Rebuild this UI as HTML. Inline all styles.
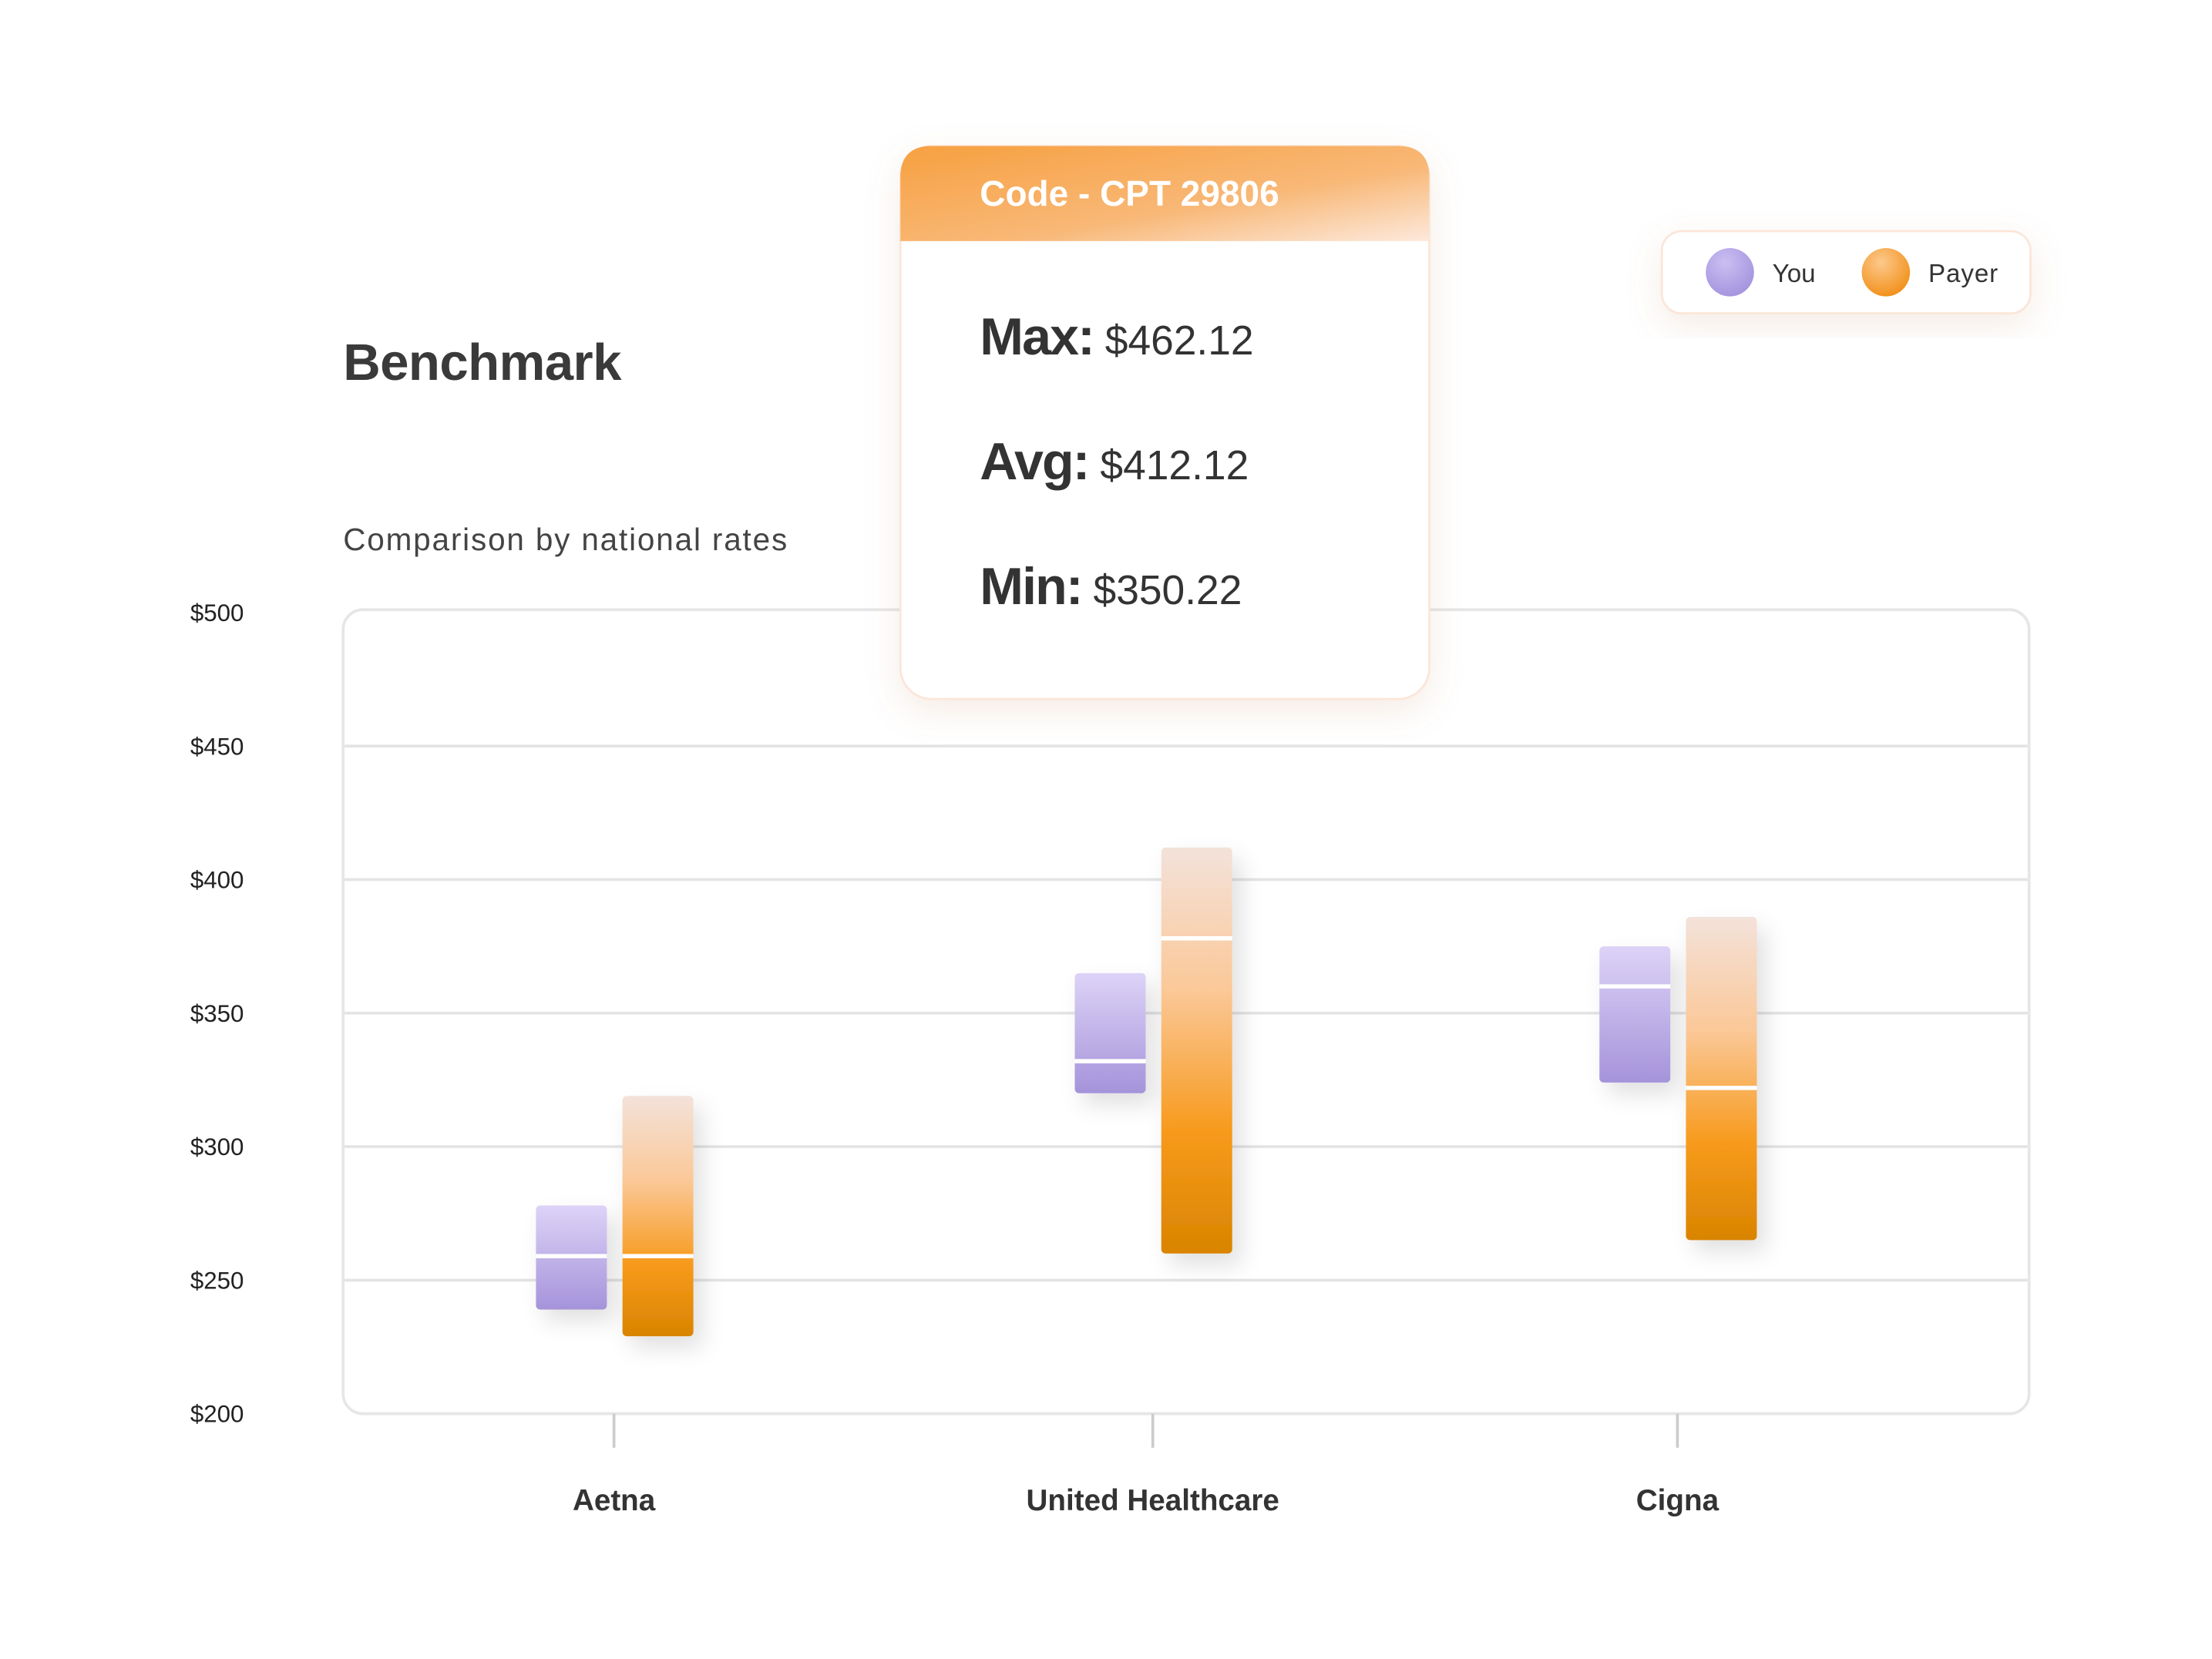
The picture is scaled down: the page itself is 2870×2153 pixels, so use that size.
<!DOCTYPE html>
<html><head><meta charset="utf-8"><style>
html,body{margin:0;padding:0;background:#fff;}
svg{display:block;}
text{font-family:"Liberation Sans",sans-serif;}
</style></head><body>
<svg id="chart" width="2870" height="2153" viewBox="0 0 1560 1170" preserveAspectRatio="none" xmlns="http://www.w3.org/2000/svg">
<defs>
<linearGradient id="youG" x1="0" y1="0" x2="0" y2="1"><stop offset="0" stop-color="#ddd3f7"/><stop offset="1" stop-color="#a593da"/></linearGradient>
<linearGradient id="payG" x1="0" y1="0" x2="0" y2="1"><stop offset="0" stop-color="#f3e2da"/><stop offset="0.35" stop-color="#fbc898"/><stop offset="0.7" stop-color="#f79a1c"/><stop offset="1" stop-color="#d98400"/></linearGradient>
<linearGradient id="hdrG" x1="0" y1="0" x2="1" y2="1"><stop offset="0" stop-color="#f7a040"/><stop offset="0.6" stop-color="#f8b877"/><stop offset="1" stop-color="#fde9dc"/></linearGradient>
<radialGradient id="youDot" cx="0.4" cy="0.3" r="0.8"><stop offset="0" stop-color="#cabff2"/><stop offset="1" stop-color="#a08fdc"/></radialGradient>
<radialGradient id="payDot" cx="0.4" cy="0.3" r="0.8"><stop offset="0" stop-color="#fcc98c"/><stop offset="1" stop-color="#f18a0e"/></radialGradient>
<filter id="sh" x="-30%" y="-30%" width="160%" height="160%"><feDropShadow dx="0" dy="8" stdDeviation="12" flood-color="#c08050" flood-opacity="0.15"/></filter>
<filter id="bsh" x="-50%" y="-20%" width="200%" height="140%"><feDropShadow dx="6" dy="8" stdDeviation="8" flood-color="#000" flood-opacity="0.12"/></filter>
</defs>
<rect x="80" y="62" width="1398" height="1052" fill="#fff"/>
<text x="242" y="268" font-size="36.5" font-weight="bold" fill="#3a3a3a" letter-spacing="-0.3">Benchmark</text>
<text x="242" y="388" font-size="22" fill="#444" letter-spacing="1">Comparison by national rates</text>
<rect x="242" y="430" width="1189" height="567" rx="14" fill="#fff" stroke="#e6e6e6" stroke-width="2"/>
<g id="grid"></g><g id="ylabels"></g><g id="bars"></g><g id="xaxis"></g>
<g filter="url(#sh)">
<rect x="635" y="103" width="373" height="390" rx="22" fill="#fff" stroke="#fbe6d8" stroke-width="1.5"/>
<path d="M635 170 V125 Q635 103 657 103 H986 Q1008 103 1008 125 V170 Z" fill="url(#hdrG)"/>
</g>
<text x="691" y="145" font-size="25" font-weight="bold" fill="#fff">Code - CPT 29806</text>
<text x="691" y="250" font-size="29" fill="#333"><tspan font-weight="bold" font-size="37" letter-spacing="-1">Max:</tspan> $462.12</text>
<text x="691" y="338" font-size="29" fill="#333"><tspan font-weight="bold" font-size="37" letter-spacing="-1">Avg:</tspan> $412.12</text>
<text x="691" y="426" font-size="29" fill="#333"><tspan font-weight="bold" font-size="37" letter-spacing="-1">Min:</tspan> $350.22</text>
<g>
<rect x="1172" y="163" width="260" height="58" rx="14" fill="#fff" stroke="#fbe6d8" stroke-width="1.5" filter="url(#sh)"/>
<circle cx="1220" cy="192" r="17" fill="url(#youDot)"/>
<text x="1250" y="199" font-size="18" fill="#333">You</text>
<circle cx="1330" cy="192" r="17" fill="url(#payDot)"/>
<text x="1360" y="199" font-size="18" fill="#333" letter-spacing="0.5">Payer</text>
</g>
</svg>
<script>
const categories = ["Aetna", "United Healthcare", "Cigna"];
const youMin = [239, 320, 324];
const youMid = [259, 332, 360];
const youMax = [278, 365, 375];
const payMin = [229, 260, 265];
const payMid = [259, 378, 322];
const payMax = [319, 412, 386];
const yTicks = [500, 450, 400, 350, 300, 250, 200];
const yTickLabels = ["$500", "$450", "$400", "$350", "$300", "$250", "$200"];

const NS = "http://www.w3.org/2000/svg";
const y = v => 432 + (500 - v) * 565 / 300;
const xCenter = i => [433, 813, 1183][i];
function mk(tag, attrs, parent){const e=document.createElementNS(NS,tag);for(const k in attrs)e.setAttribute(k,attrs[k]);parent.appendChild(e);return e;}
const grid=document.getElementById('grid'), yl=document.getElementById('ylabels'), bars=document.getElementById('bars'), xa=document.getElementById('xaxis');
yTicks.forEach((t,i)=>{
  if(t<500 && t>200){
    const l=mk('line',{x1:243,x2:1430,y1:y(t),y2:y(t),stroke:'#e4e4e4','stroke-width':2},grid);
    
    
  }
  const tx=mk('text',{x:172,y:y(t)+6,'font-size':17,'text-anchor':'end',fill:'#222'},yl);
  tx.textContent=yTickLabels[i];
  
  
});
categories.forEach((c,i)=>{
  const cx=xCenter(i);
  const t=mk('line',{x1:cx,x2:cx,y1:997,y2:1021,stroke:'#ccc','stroke-width':2},xa);
  
  
  const lb=mk('text',{x:cx,y:1065,'font-size':21,'font-weight':'bold','text-anchor':'middle',fill:'#333'},xa);
  lb.textContent=c;
  
  
  const g=mk('g',{filter:'url(#bsh)'},bars);
  const yb=mk('rect',{x:cx-55,y:y(youMax[i]),width:50,height:y(youMin[i])-y(youMax[i]),rx:3,fill:'url(#youG)'},g);
  
  
  const ym=mk('line',{x1:cx-55,x2:cx-5,y1:y(youMid[i]),y2:y(youMid[i]),stroke:'#fff','stroke-width':3},bars);
  
  
  const pb=mk('rect',{x:cx+6,y:y(payMax[i]),width:50,height:y(payMin[i])-y(payMax[i]),rx:3,fill:'url(#payG)'},g);
  
  
  const pm=mk('line',{x1:cx+6,x2:cx+56,y1:y(payMid[i]),y2:y(payMid[i]),stroke:'#fff','stroke-width':3},bars);
  
  
});
</script>
</body></html>
